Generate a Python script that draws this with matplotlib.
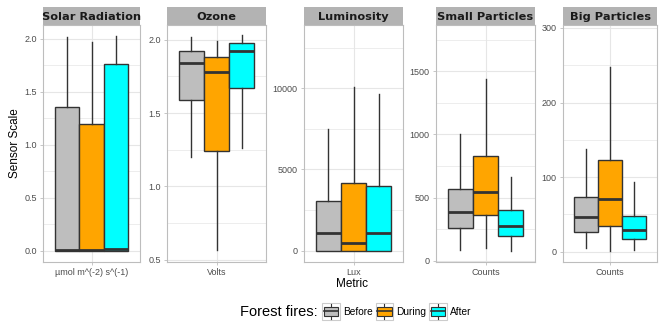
import matplotlib
matplotlib.use("Agg")
import matplotlib.pyplot as plt
from matplotlib.legend_handler import HandlerBase
from matplotlib.patches import Patch, Rectangle
from matplotlib.lines import Line2D
from matplotlib.ticker import AutoMinorLocator, FixedLocator

plt.rcParams["font.family"] = ["Liberation Sans", "DejaVu Sans"]

metrics = ["Solar Radiation", "Ozone", "Luminosity", "Small Particles", "Big Particles"]
units = ["µmol m^(-2) s^(-1)", "Volts", "Lux", "Counts", "Counts"]
periods = ["Before", "During", "After"]
period_colors = ["#BEBEBE", "#FFA500", "#00FFFF"]

# box stats per metric, one value per period (Before, During, After)
whislo = [[0.0, 0.0, 0.0], [1.20, 0.57, 1.26], [0, 0, 0], [85, 98, 79], [4.5, 1.3, 2.3]]
q1 = [[0.0, 0.0, 0.0], [1.59, 1.24, 1.67], [0, 0, 0], [256, 362, 198], [26.8, 34.8, 17]]
med = [[0.006, 0.006, 0.018], [1.84, 1.78, 1.92], [1100, 480, 1100], [383, 541, 275], [46, 70, 29]]
q3 = [[1.355, 1.20, 1.76], [1.92, 1.88, 1.975], [3050, 4170, 3980], [565, 828, 401], [73.6, 122.8, 47.8]]
whishi = [[2.015, 1.965, 2.03], [2.02, 1.99, 2.03], [7500, 10050, 9650], [1000, 1437, 660], [137.5, 247, 93.7]]

yticks = [[0, 0.5, 1.0, 1.5, 2.0], [0.5, 1.0, 1.5, 2.0], [0, 5000, 10000],
          [0, 500, 1000, 1500], [0, 100, 200, 300]]
ytick_fmt = ["{:.1f}", "{:.1f}", "{:.0f}", "{:.0f}", "{:.0f}"]
ylims = [(-0.107, 2.13), (0.485, 2.10), (-700, 13900), (-10, 1865), (-14, 304)]

W, H = 659, 323
panel_x = [(43, 140), (167, 266), (304, 403), (436, 535), (563, 657)]
top, bottom, strip_h = 25, 262, 18
EDGE = "#333333"
GRID = "#E6E6E6"
BORDER = "#BDBDBD"

fig = plt.figure(figsize=(W / 100, H / 100), dpi=100)

for i, name in enumerate(metrics):
    x0, x1 = panel_x[i]
    ax = fig.add_axes([x0 / W, 1 - bottom / H, (x1 - x0) / W, (bottom - top) / H])
    stats = []
    for j in range(3):
        stats.append(dict(med=med[i][j], q1=q1[i][j], q3=q3[i][j],
                          whislo=whislo[i][j], whishi=whishi[i][j], fliers=[]))
    bp = ax.bxp(stats, positions=[0.695, 1.0, 1.305], widths=0.305,
                patch_artist=True, showfliers=False, showcaps=False,
                boxprops=dict(edgecolor=EDGE, linewidth=1.0),
                whiskerprops=dict(color=EDGE, linewidth=1.0),
                medianprops=dict(color=EDGE, linewidth=2.0, solid_capstyle="butt"),
                manage_ticks=False, zorder=3)
    for patch, c in zip(bp["boxes"], period_colors):
        patch.set_facecolor(c)

    ax.set_xlim(0.4, 1.6)
    ax.set_ylim(*ylims[i])
    ax.set_xticks([1.0])
    ax.set_xticklabels([units[i]])
    ax.yaxis.set_major_locator(FixedLocator(yticks[i]))
    ax.set_yticklabels([ytick_fmt[i].format(v) for v in yticks[i]])
    ax.yaxis.set_minor_locator(AutoMinorLocator(2))
    ax.grid(True, which="major", color=GRID, linewidth=0.8, zorder=0)
    ax.grid(True, which="minor", axis="y", color=GRID, linewidth=0.5, zorder=0)
    ax.set_axisbelow(True)
    ax.tick_params(axis="both", which="major", labelsize=6.5, labelcolor="#4D4D4D",
                   color=BORDER, length=2.5, width=0.6, pad=2)
    ax.tick_params(axis="y", which="minor", length=0)
    for s in ax.spines.values():
        s.set_color(BORDER)
        s.set_linewidth(0.8)

    # facet strip
    sax = fig.add_axes([x0 / W, 1 - top / H, (x1 - x0) / W, strip_h / H])
    sax.set_facecolor("#B3B3B3")
    sax.set_xticks([])
    sax.set_yticks([])
    for s in sax.spines.values():
        s.set_visible(False)
    sax.text(0.5, 0.45, name, ha="center", va="center", fontsize=8.2,
             family="DejaVu Sans", weight="bold", color="#1A1A1A",
             transform=sax.transAxes)

fig.text(15 / W, 1 - 143 / H, "Sensor Scale", rotation=90, ha="center", va="center",
         fontsize=8.5, color="black")
fig.text(352 / W, 1 - 284 / H, "Metric", ha="center", va="center",
         fontsize=8.5, color="black")


class BoxKey(HandlerBase):
    # small boxplot glyph on a framed key, like ggplot's legend keys
    def create_artists(self, legend, orig, xd, yd, w, h, fontsize, trans):
        s = 1.75 * fontsize
        cx = xd + w / 2
        cy = yd + h / 2
        bx = cx - s / 2
        by = cy - s / 2
        bg = Rectangle((bx, by), s, s, facecolor="white", edgecolor="#CCCCCC",
                       linewidth=0.8, transform=trans)
        wl = Line2D([cx, cx], [by + 0.1 * s, by + 0.9 * s], color=EDGE,
                    linewidth=0.8, transform=trans)
        box = Rectangle((bx + 0.1 * s, by + 0.27 * s), 0.8 * s, 0.46 * s,
                        facecolor=orig.get_facecolor(), edgecolor=EDGE,
                        linewidth=0.8, transform=trans)
        md = Line2D([bx + 0.1 * s, bx + 0.9 * s], [cy, cy],
                    color=EDGE, linewidth=1.2, transform=trans)
        return [bg, wl, box, md]


handles = [Patch(facecolor=c) for c in period_colors]
fig.text(279 / W, 1 - 312 / H, "Forest fires:", ha="center", va="center",
         fontsize=10.5, color="black")
fig.legend(handles, periods, handler_map={Patch: BoxKey()}, ncol=3,
           loc="center left", bbox_to_anchor=(322 / W, 1 - 312 / H),
           frameon=False, fontsize=7.3, handlelength=1.75, handleheight=0.7,
           handletextpad=0.3, columnspacing=0.3, borderpad=0, borderaxespad=0)

fig.savefig("out.png", dpi=100)
